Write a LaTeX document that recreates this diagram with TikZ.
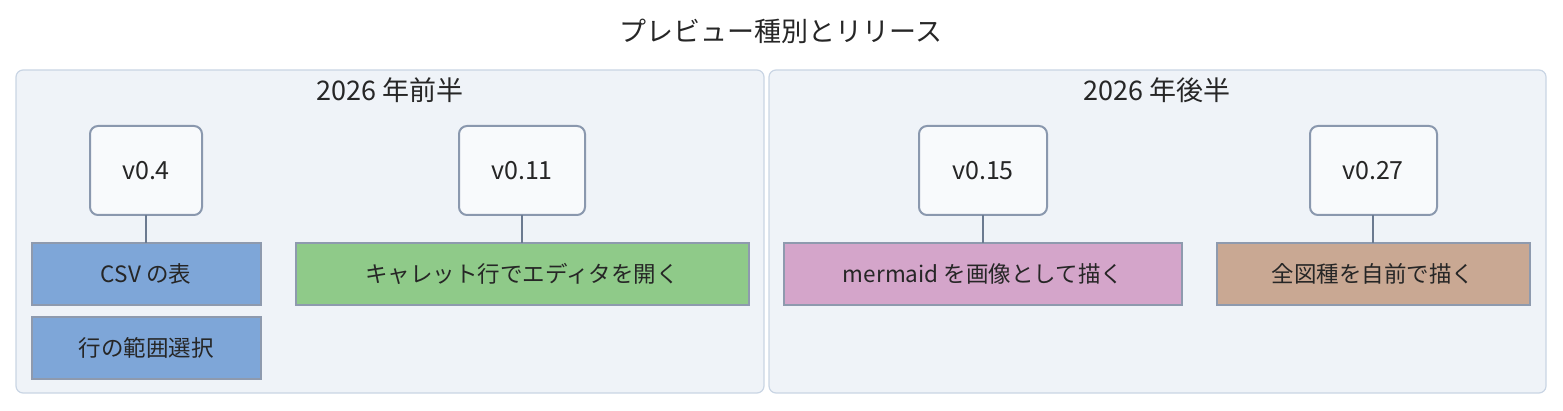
\documentclass[tikz,border=0pt]{standalone}
\usepackage{fontspec}
\setmainfont{Noto Sans CJK JP}
\definecolor{secfill}{HTML}{EFF3F8}
\definecolor{secdraw}{HTML}{C9D5E4}
\definecolor{verdraw}{HTML}{8A98AE}
\definecolor{verfill}{HTML}{F8FAFC}
\definecolor{conn}{HTML}{6B7A90}
\definecolor{cblue}{HTML}{7EA6D8}
\definecolor{cgreen}{HTML}{8FCA89}
\definecolor{cpink}{HTML}{D4A5CA}
\definecolor{ctan}{HTML}{C9A893}
\definecolor{itemdraw}{HTML}{8E9AAE}
\begin{document}
\begin{tikzpicture}[x=1pt,y=-1pt,
  sec/.style={draw=secdraw,fill=secfill,rounded corners=7pt,line width=1.2pt},
  ver/.style={draw=verdraw,fill=verfill,rounded corners=8pt,line width=2pt},
  item/.style={draw=itemdraw,line width=1.5pt},
  lab/.style={font=\fontsize{22.5}{26}\selectfont,text=black!85},
  big/.style={font=\fontsize{27}{30}\selectfont,text=black!85},
  verl/.style={font=\fontsize{25}{28}\selectfont,text=black!85},
  con/.style={draw=conn,line width=2.5pt}]
\useasboundingbox (0,0) rectangle (1563,411);
\node[big] (title) at (781,31) {プレビュー種別とリリース};
\draw[sec] (16,70) rectangle (764,393);
\draw[sec] (769,70) rectangle (1546,393);
\node[big] (s1) at (390,90) {2026 年前半};
\node[big] (s2) at (1157,90) {2026 年後半};
\draw[ver] (90,126) rectangle (202,215); \node[verl] (v1) at (146,171) {v0.4};
\draw[ver] (459,126) rectangle (585,215); \node[verl] (v2) at (522,171) {v0.11};
\draw[ver] (919,126) rectangle (1047,215); \node[verl] (v3) at (983,171) {v0.15};
\draw[ver] (1310,126) rectangle (1437,215); \node[verl] (v4) at (1373,171) {v0.27};
\draw[item,fill=cblue] (32,243) rectangle (261,305); \node[lab] (a) at (146,274) {CSV の表};
\draw[item,fill=cblue] (32,317) rectangle (261,379); \node[lab] (b) at (146,348) {行の範囲選択};
\draw[item,fill=cgreen] (296,243) rectangle (749,305); \node[lab] (c) at (522,274) {キャレット行でエディタを開く};
\draw[item,fill=cpink] (784,243) rectangle (1182,305); \node[lab] (d) at (983,274) {mermaid を画像として描く};
\draw[item,fill=ctan] (1217,243) rectangle (1530,305); \node[lab] (e) at (1373,274) {全図種を自前で描く};
\coordinate (t1) at (146,215); \coordinate (b1) at (146,243);
\coordinate (t2) at (522,215); \coordinate (b2) at (522,243);
\coordinate (t3) at (983,215); \coordinate (b3) at (983,243);
\coordinate (t4) at (1373,215); \coordinate (b4) at (1373,243);
\draw[con] (t1) -- (b1); \draw[con] (t2) -- (b2);
\draw[con] (t3) -- (b3); \draw[con] (t4) -- (b4);
\end{tikzpicture}
\end{document}
